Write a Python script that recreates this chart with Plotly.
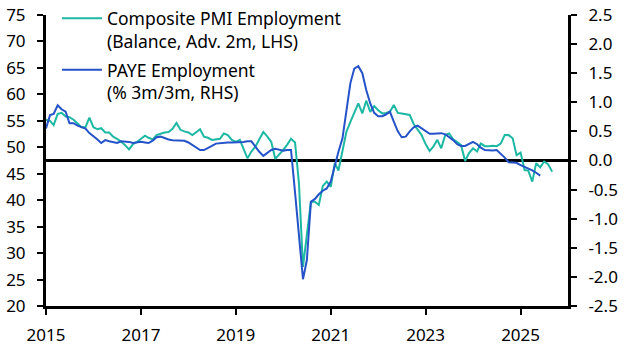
import pandas as pd
import plotly.graph_objects as go

# ---- data (monthly, starting Jan 2015) ----
pmi_start = "2015-01-01"
pmi_employment = [
    55.2, 55.0, 54.2, 56.3, 56.5, 55.8, 55.7, 55.2, 54.5, 53.8, 53.8, 55.6,
    53.8, 53.4, 53.6, 52.8, 52.8, 52.0, 51.6, 51.1, 50.4, 49.6, 50.6, 51.0,
    51.6, 52.2, 51.8, 51.5, 52.3, 52.6, 52.8, 52.9, 53.5, 54.6, 53.3, 53.0,
    52.8, 52.3, 52.9, 53.4, 52.0, 51.8, 51.4, 51.5, 51.6, 52.6, 52.3, 51.4,
    51.0, 51.4, 49.7, 47.9, 49.2, 50.1, 51.5, 52.9, 52.0, 51.0, 47.8, 48.6,
    49.5, 50.5, 51.6, 50.9, 43.2, 27.4, 34.0, 39.7, 39.7, 39.1, 42.7, 43.5,
    42.5, 47.0, 45.6, 49.5, 52.9, 54.8, 56.7, 58.3, 56.4, 58.8, 56.7, 57.8,
    57.0, 56.4, 56.5, 56.7, 58.0, 56.5, 56.4, 56.3, 56.1, 54.4, 53.3, 52.3,
    50.6, 49.3, 50.1, 51.4, 49.8, 52.3, 52.6, 51.5, 51.0, 50.4, 47.4, 48.9,
    49.8, 49.2, 50.7, 50.2, 50.2, 50.3, 50.2, 50.7, 52.3, 52.3, 51.7, 48.5,
    49.0, 45.7, 45.6, 43.5, 47.0, 46.2, 47.3, 46.8, 45.4,
]
paye_start = "2015-01-01"
paye_employment = [
    0.55, 0.78, 0.80, 0.95, 0.88, 0.84, 0.64, 0.64, 0.60, 0.57, 0.55, 0.47,
    0.42, 0.36, 0.30, 0.35, 0.33, 0.32, 0.30, 0.33, 0.33, 0.32, 0.30, 0.31,
    0.32, 0.31, 0.30, 0.34, 0.40, 0.41, 0.38, 0.36, 0.35, 0.35, 0.35, 0.34,
    0.31, 0.27, 0.22, 0.18, 0.18, 0.21, 0.25, 0.29, 0.30, 0.31, 0.31, 0.31,
    0.31, 0.32, 0.32, 0.33, 0.33, 0.24, 0.15, 0.08, 0.13, 0.18, 0.20, 0.18,
    0.17, 0.18, 0.18, -0.55, -1.30, -2.04, -1.71, -0.71, -0.66, -0.58, -0.52, -0.48,
    -0.36, -0.08, 0.15, 0.38, 0.87, 1.33, 1.58, 1.62, 1.50, 1.21, 0.98, 0.82,
    0.76, 0.76, 0.79, 0.84, 0.67, 0.50, 0.40, 0.41, 0.50, 0.57, 0.60, 0.55,
    0.51, 0.46, 0.46, 0.47, 0.47, 0.45, 0.40, 0.35, 0.28, 0.25, 0.25, 0.28,
    0.32, 0.28, 0.22, 0.18, 0.17, 0.17, 0.18, 0.12, 0.05, -0.03, -0.03, -0.04,
    -0.08, -0.11, -0.14, -0.17, -0.21, -0.26,
]
pmi_name = "Composite PMI Employment<br>(Balance, Adv. 2m, LHS)"
paye_name = "PAYE Employment<br>(% 3m/3m, RHS)"

left_ticks = [20, 25, 30, 35, 40, 45, 50, 55, 60, 65, 70, 75]
right_ticks = [-2.5, -2.0, -1.5, -1.0, -0.5, 0.0, 0.5, 1.0, 1.5, 2.0, 2.5]
right_ticktext = ["-2.5", "-2.0", "-1.5", "-1.0", "-0.5", "0.0", "0.5", "1.0", "1.5", "2.0", "2.5"]
x_range = ["2015-01-01", "2026-01-01"]

TEAL = "#1db8a4"
BLUE = "#2452c8"
FONT = "Noto Sans"

pmi_dates = pd.date_range(pmi_start, periods=len(pmi_employment), freq="MS")
paye_dates = pd.date_range(paye_start, periods=len(paye_employment), freq="MS")

fig = go.Figure()
fig.add_trace(go.Scatter(x=pmi_dates, y=pmi_employment, name=pmi_name, mode="lines",
                         line=dict(color=TEAL, width=2), yaxis="y", legendgroup="a"))
fig.add_trace(go.Scatter(x=paye_dates, y=paye_employment, name=paye_name, mode="lines",
                         line=dict(color=BLUE, width=2), yaxis="y2", legendgroup="b"))

axis_common = dict(showgrid=False, showline=True, linecolor="black", linewidth=3,
                   ticks="outside", tickcolor="black", tickwidth=2, ticklen=6,
                   tickfont=dict(family=FONT, size=17, color="black"), automargin=False)

fig.update_layout(
    template="none",
    width=627, height=352,
    margin=dict(l=46, r=59, t=15, b=46, autoexpand=False),
    paper_bgcolor="white", plot_bgcolor="white",
    font=dict(family=FONT, size=17, color="black"),
    xaxis=dict(type="date", range=x_range, dtick="M24", tick0="2015-01-01",
               tickformat="%Y", ticklabelstandoff=6, **axis_common),
    yaxis=dict(range=[20, 75], tickvals=left_ticks, zeroline=False,
               ticklabelstandoff=8, **axis_common),
    yaxis2=dict(range=[-2.5, 2.5], tickvals=right_ticks, ticktext=right_ticktext,
                overlaying="y", side="right", zeroline=True, zerolinecolor="black",
                zerolinewidth=3, ticklabelstandoff=8, **axis_common),
    legend=dict(x=0.021, y=1.05, xanchor="left", yanchor="top", valign="top",
                bgcolor="rgba(0,0,0,0)", font=dict(family=FONT, size=17.5, color="black"),
                tracegroupgap=3, itemwidth=40),
    showlegend=True,
)

fig.write_html("out.html")
